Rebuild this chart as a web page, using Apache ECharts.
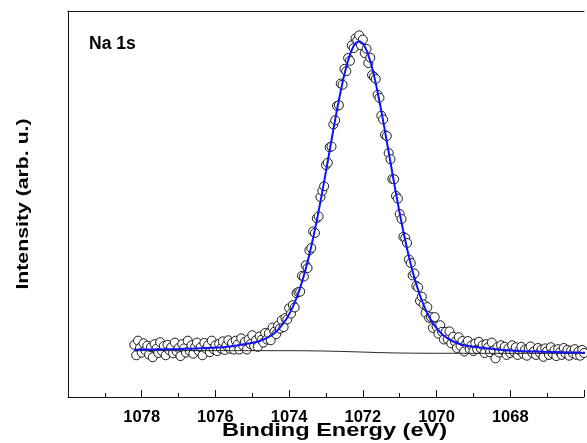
<!DOCTYPE html>
<html>
<head>
<meta charset="utf-8">
<script src="https://cdn.jsdelivr.net/npm/echarts@6/dist/echarts.min.js"></script>
<style>
html,body{margin:0;padding:0;background:#fff;}
#chart{width:587px;height:443px;}
</style>
</head>
<body>
<div id="chart"></div>
<script>
// ---- data (binding energy in eV, intensity in arb. u.) ----
var beScan = [
1078.20,1078.15,1078.10,1078.05,1078.00,1077.95,1077.90,1077.85,1077.80,1077.75,
1077.70,1077.65,1077.60,1077.55,1077.50,1077.45,1077.40,1077.35,1077.30,1077.25,
1077.20,1077.15,1077.10,1077.05,1077.00,1076.95,1076.90,1076.85,1076.80,1076.75,
1076.70,1076.65,1076.60,1076.55,1076.50,1076.45,1076.40,1076.35,1076.30,1076.25,
1076.20,1076.15,1076.10,1076.05,1076.00,1075.95,1075.90,1075.85,1075.80,1075.75,
1075.70,1075.65,1075.60,1075.55,
1075.50,1075.45,1075.40,1075.35,1075.30,1075.25,1075.20,1075.15,1075.10,1075.05,
1075.00,1074.95,1074.90,1074.85,1074.80,1074.75,1074.70,1074.65,1074.60,1074.55,
1074.50,1074.45,1074.40,1074.35,1074.30,1074.25,1074.20,1074.15,1074.10,1074.05,
1074.00,1073.95,1073.90,1073.85,1073.80,1073.75,1073.70,1073.65,1073.60,1073.55,
1073.50,1073.45,1073.40,1073.35,1073.30,1073.25,1073.20,1073.15,1073.10,1073.05,
1073.00,1072.95,1072.90,1072.85,1072.80,1072.75,1072.70,1072.65,1072.60,1072.55,
1072.50,1072.45,1072.40,1072.35,1072.30,1072.25,1072.20,1072.15,1072.10,1072.05,
1072.00,1071.95,1071.90,1071.85,1071.80,1071.75,1071.70,1071.65,1071.60,1071.55,
1071.50,1071.45,1071.40,1071.35,1071.30,1071.25,1071.20,1071.15,1071.10,1071.05,
1071.00,1070.95,1070.90,1070.85,1070.80,1070.75,1070.70,1070.65,1070.60,1070.55,
1070.50,1070.45,1070.40,1070.35,1070.30,1070.25,1070.20,1070.15,1070.10,1070.05,
1070.00,1069.95,1069.90,1069.85,1069.80,1069.75,1069.70,1069.65,1069.60,1069.55,
1069.50,1069.45,1069.40,1069.35,1069.30,1069.25,1069.20,1069.15,1069.10,1069.05,
1069.00,
1068.95,1068.90,1068.85,1068.80,1068.75,1068.70,1068.65,1068.60,1068.55,1068.50,
1068.45,1068.40,1068.35,1068.30,1068.25,1068.20,1068.15,1068.10,1068.05,1068.00,
1067.95,1067.90,1067.85,1067.80,1067.75,1067.70,1067.65,1067.60,1067.55,1067.50,
1067.45,1067.40,1067.35,1067.30,1067.25,1067.20,1067.15,1067.10,1067.05,1067.00,
1066.95,1066.90,1066.85,1066.80,1066.75,1066.70,1066.65,1066.60,1066.55,1066.50,
1066.45,1066.40,1066.35,1066.30,1066.25,1066.20,1066.15,1066.10,1066.05,1066.00
];
var scanIntensity = [
13.5,10.8,14.6,12.7,11.5,13.9,12.1,13.3,11.0,12.9,
10.3,13.7,12.5,11.4,14.2,11.9,13.2,10.8,13.5,12.1,
12.9,11.3,14.1,11.8,12.7,10.6,13.7,12.6,11.5,14.6,
12.0,13.4,11.2,13.0,14.1,11.9,12.9,10.8,14.0,12.5,
13.4,11.6,14.6,12.4,13.4,11.9,13.8,12.6,14.4,12.2,
13.3,14.7,12.5,14.0,
12.3,14.6,13.6,12.3,15.2,13.3,14.3,12.3,14.9,13.7,
16.0,13.2,14.7,13.0,15.7,14.8,14.1,16.6,14.9,16.5,
14.7,18.0,16.9,16.3,18.5,17.7,19.9,18.1,20.5,20.1,
23.0,21.6,23.8,23.2,26.9,27.2,27.3,31.4,31.2,34.1,
33.4,38.0,38.6,42.9,42.5,46.3,46.8,51.8,53.4,54.6,
60.1,60.7,64.7,64.9,70.6,71.7,75.4,75.6,81.2,80.9,
85.0,84.4,87.8,87.1,91.1,90.4,92.9,92.4,93.7,91.1,
92.6,89.1,90.2,86.5,87.9,83.4,82.9,82.4,78.3,77.5,
72.9,71.9,67.9,67.6,63.2,61.6,56.5,56.4,52.1,51.4,
47.4,46.1,41.5,41.2,39.9,35.6,34.7,31.5,32.0,28.8,
28.4,24.9,26.0,24.0,21.8,23.3,20.5,20.7,17.9,20.7,
18.3,16.4,18.6,16.9,14.9,16.9,15.0,17.0,13.9,15.6,
14.3,12.7,15.5,13.3,14.5,11.8,13.8,14.5,12.4,13.4,
11.9,
13.9,12.4,14.3,12.6,13.4,11.4,13.7,12.9,11.6,14.1,
12.1,10.0,12.9,11.5,13.4,12.1,13.0,10.9,12.6,11.4,
13.4,11.7,12.9,10.9,12.1,13.0,11.2,12.3,10.7,12.6,
13.1,11.4,11.9,10.9,12.7,11.5,12.3,10.4,12.6,11.9,
10.9,12.9,11.3,12.1,10.6,12.4,11.6,10.9,12.7,11.3,
12.2,10.7,12.0,11.3,12.4,10.9,11.8,10.7,12.2,11.4
];
var fitBE = [1078.2,1077.6,1077.1,1076.6,1076.1,1075.6,1075.1,1074.9,1074.7,1074.5,
1074.3,1074.1,1074.0,1073.9,1073.8,1073.7,1073.6,1073.5,1073.4,1073.3,
1073.2,1073.1,1073.0,1072.9,1072.8,1072.7,1072.6,1072.5,1072.4,1072.3,
1072.2,1072.1,1072.0,1071.9,1071.8,1071.7,1071.6,1071.5,1071.4,1071.3,
1071.2,1071.1,1071.0,1070.9,1070.8,1070.7,1070.6,1070.5,1070.4,1070.3,
1070.2,1070.1,1069.9,1069.7,1069.5,1069.3,1069.1,1068.6,1068.1,1067.6,
1067.1,1066.6,1066.1,1065.9];
var fitIntensity = [12.25,12.3,12.4,12.55,12.75,13.1,13.85,14.24,14.87,15.86,
17.42,19.81,21.42,23.35,25.65,28.35,31.46,35.01,38.99,43.38,
48.15,53.21,58.5,63.9,69.27,74.47,79.31,83.62,87.22,89.94,
91.62,92.17,91.56,89.82,87.05,83.39,79.02,74.12,68.88,63.47,
58.03,52.7,47.61,42.81,38.4,34.4,30.83,27.71,25.0,22.69,
20.75,19.14,16.73,15.17,14.18,13.55,13.15,12.57,12.1,11.85,
11.7,11.6,11.5,11.48];
var bgBE = [1078.2,1075.1,1074.1,1073.6,1073.1,1072.6,1072.1,1071.6,1071.1,1070.6,1070.1,1069.1,1065.9];
var bgIntensity = [12.02,12.01,12.0,11.98,11.92,11.81,11.67,11.52,11.41,11.35,11.33,11.32,11.31];
var tickLabels = [1078,1076,1074,1072,1070,1068];
var peakLabel = 'Na 1s';
var xTitle = 'Binding Energy (eV)';
var yTitle = 'Intensity (arb. u.)';

function zip(a, b) { return a.map(function (v, i) { return [v, b[i]]; }); }

var chart = echarts.init(document.getElementById('chart'), null, {renderer: 'canvas'});
var axisColor = '#111';
var font = '"Liberation Sans", Arial, Helvetica, sans-serif';
chart.setOption({
  animation: false,
  backgroundColor: '#ffffff',
  grid: {left: 68, right: 0, top: 11, bottom: 46, containLabel: false},
  xAxis: [{
    type: 'value', inverse: true, min: 1066, max: 1080, interval: 2,
    axisLine: {show: true, onZero: false, lineStyle: {color: axisColor, width: 1}},
    axisTick: {show: true, inside: true, length: 7, lineStyle: {color: axisColor, width: 1}},
    minorTick: {show: true, splitNumber: 2, length: 4, lineStyle: {color: axisColor, width: 1}},
    splitLine: {show: false},
    axisLabel: {
      show: true, margin: 12, color: '#000', fontFamily: font, fontWeight: 'bold', fontSize: 16.5,
      formatter: function (v) { return tickLabels.indexOf(v) >= 0 ? String(v) : ''; }
    }
  }, {
    type: 'value', inverse: true, min: 1066, max: 1080, position: 'top',
    axisLine: {show: true, onZero: false, lineStyle: {color: axisColor, width: 1}},
    axisTick: {show: false}, axisLabel: {show: false}, splitLine: {show: false}
  }],
  yAxis: {
    type: 'value', min: 0, max: 100,
    axisLine: {show: true, onZero: false, lineStyle: {color: axisColor, width: 1}},
    axisTick: {show: false}, axisLabel: {show: false}, splitLine: {show: false}
  },
  series: [{
    type: 'scatter', name: 'data', data: zip(beScan, scanIntensity),
    symbol: 'circle', symbolSize: 9,
    itemStyle: {color: '#ffffff', borderColor: '#1a1a1a', borderWidth: 1, opacity: 1},
    z: 2
  }, {
    type: 'line', name: 'background', data: zip(bgBE, bgIntensity),
    showSymbol: false, symbol: 'none',
    lineStyle: {color: '#2a2a2a', width: 1}, z: 3
  }, {
    type: 'line', name: 'fit', data: zip(fitBE, fitIntensity),
    showSymbol: false, symbol: 'none', smooth: 0.2,
    lineStyle: {color: '#1010ff', width: 2}, z: 4
  }],
  graphic: [{
    type: 'text', x: 89, y: 44, z: 10,
    style: {text: peakLabel, font: 'bold 17.5px ' + font, fill: '#000', align: 'left', verticalAlign: 'middle', textAlign: 'left', textVerticalAlign: 'middle'}
  }, {
    type: 'text', x: 334.5, y: 431, scaleX: 1.24, z: 10,
    style: {text: xTitle, font: 'bold 19px ' + font, fill: '#000', align: 'center', verticalAlign: 'middle', textAlign: 'center', textVerticalAlign: 'middle'}
  }, {
    type: 'text', x: 23, y: 204, rotation: Math.PI / 2, scaleX: 1.25, z: 10,
    style: {text: yTitle, font: 'bold 17px ' + font, fill: '#000', align: 'center', verticalAlign: 'middle', textAlign: 'center', textVerticalAlign: 'middle'}
  }]
});
</script>
</body>
</html>
